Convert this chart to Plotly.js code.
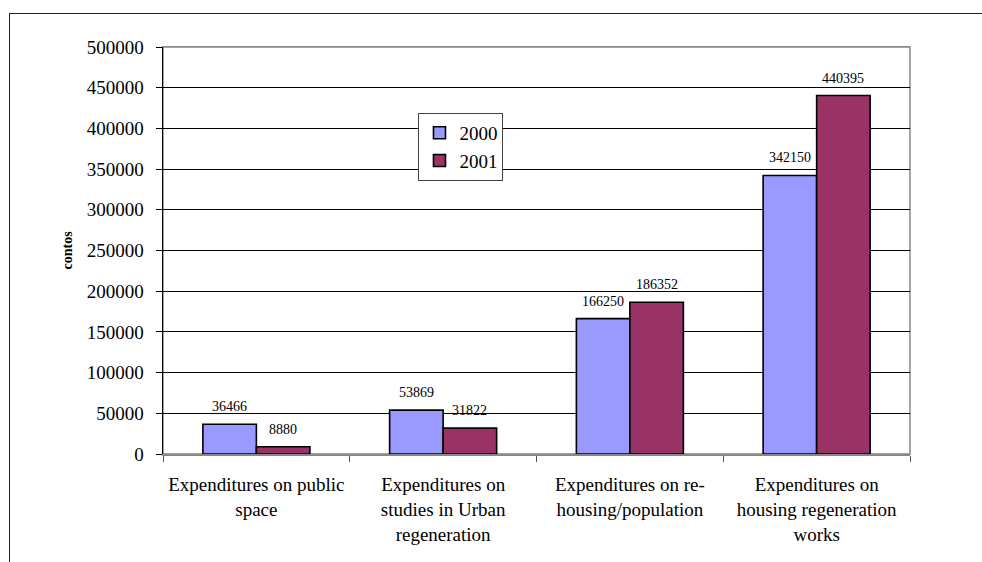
<!DOCTYPE html>
<html>
<head>
<meta charset="utf-8">
<script src="https://cdn.plot.ly/plotly-3.0.1.min.js"></script>
<style>
  html, body { margin: 0; padding: 0; background: #fff; }
  #chart { width: 982px; height: 562px; position: relative; }
  #frame {
    position: absolute; left: 9px; top: 13px; right: 0; bottom: 0;
    border-top: 1px solid #222; border-left: 1px solid #222;
    pointer-events: none;
  }
</style>
</head>
<body>
<div id="chart"><div id="frame"></div></div>
<script>
// Expenditure categories (x axis)
const categories = [
  "Expenditures on public<br>space",
  "Expenditures on<br>studies in Urban<br>regeneration",
  "Expenditures on re-<br>housing/population",
  "Expenditures on<br>housing regeneration<br>works"
];

// Series names and values, in contos
const seriesNames = ["2000", "2001"];
const values2000 = [36466, 53869, 166250, 342150];
const values2001 = [8880, 31822, 186352, 440395];

// Y axis ticks
const yTickValues = [0, 50000, 100000, 150000, 200000, 250000, 300000, 350000, 400000, 450000, 500000];

const serif = "Liberation Serif, Times New Roman, Times, serif";
const colors = ["#9999FF", "#993366"];

const W = 982, H = 562;
const margin = { l: 163, r: 72, t: 47, b: 108 };
const bargap = 0.427;

function barTrace(name, vals, color) {
  return {
    type: "bar",
    name: name,
    x: categories,
    y: vals,
    marker: { color: color, line: { color: "#000", width: 1.6 } },
    hoverinfo: "x+y+name"
  };
}

const series = [values2000, values2001];
const data = series.map((vals, i) => barTrace(seriesNames[i], vals, colors[i]));

// Value labels sit centred above each bar of the group
const catWidth = (W - margin.l - margin.r) / categories.length;
const barWidth = catWidth * (1 - bargap) / series.length;
const valueLabels = [];
series.forEach((vals, i) => {
  const shift = (i - (series.length - 1) / 2) * barWidth;
  vals.forEach((v, j) => {
    valueLabels.push({
      text: String(v),
      x: categories[j], y: v, xref: "x", yref: "y",
      xanchor: "center", yanchor: "bottom",
      xshift: shift, yshift: 8,
      showarrow: false,
      font: { family: serif, size: 14, color: "#000" }
    });
  });
});

const layout = {
  width: W,
  height: H,
  margin: margin,
  paper_bgcolor: "rgba(0,0,0,0)",
  plot_bgcolor: "#fff",
  barmode: "group",
  bargap: bargap,
  bargroupgap: 0,
  font: { family: serif, color: "#000" },
  showlegend: true,
  legend: {
    x: 0.342, y: 0.838, xanchor: "left", yanchor: "top",
    bgcolor: "#fff", bordercolor: "#444", borderwidth: 1,
    font: { family: serif, size: 19, color: "#000" },
    itemwidth: 30, tracegroupgap: 0
  },
  xaxis: {
    type: "category",
    tickson: "boundaries",
    ticks: "outside", ticklen: 6, tickcolor: "#555", tickwidth: 1,
    showline: true, linecolor: "#888", linewidth: 1.5, mirror: true,
    showgrid: false, zeroline: false,
    tickfont: { family: serif, size: 19, color: "#000" },
    ticklabelstandoff: 13,
    fixedrange: true
  },
  yaxis: {
    range: [0, 500000],
    tickvals: yTickValues,
    ticktext: yTickValues.map(v => String(v)),
    ticks: "outside", ticklen: 6, tickcolor: "#000", tickwidth: 1,
    showline: true, linecolor: "#000", linewidth: 1.5,
    showgrid: true, gridcolor: "#000", gridwidth: 1,
    zeroline: false,
    tickfont: { family: serif, size: 19, color: "#000" },
    ticklabelstandoff: 8,
    fixedrange: true
  },
  shapes: [{
    type: "rect", xref: "paper", yref: "paper",
    x0: 0, x1: 1, y0: 0, y1: 1,
    line: { color: "#888", width: 1.5 }, layer: "below"
  }],
  annotations: valueLabels.concat([{
    text: "<b>contos</b>",
    xref: "paper", yref: "paper",
    x: -0.1285, y: 0.5, xanchor: "center", yanchor: "middle",
    textangle: -90, showarrow: false,
    font: { family: serif, size: 14, color: "#000" }
  }])
};

Plotly.newPlot("chart", data, layout, { displayModeBar: false, staticPlot: true });
</script>
</body>
</html>
